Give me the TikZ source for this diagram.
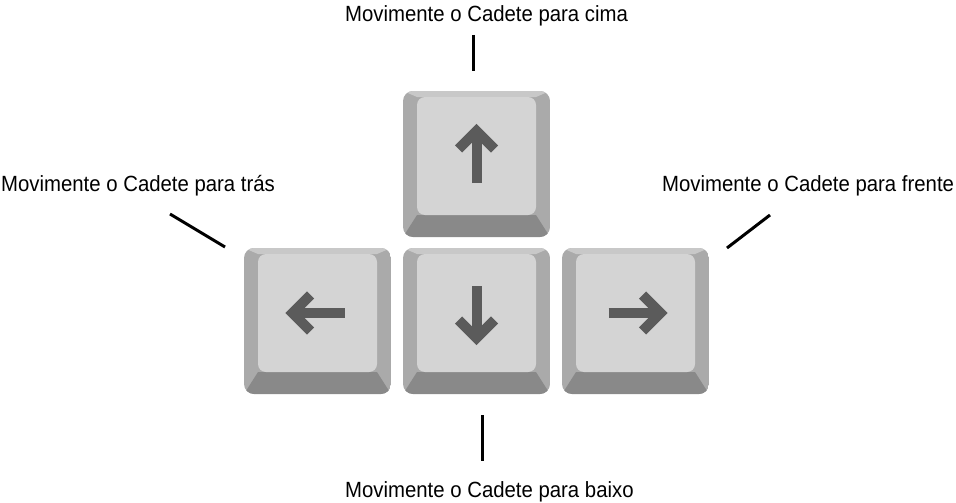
\documentclass[tikz,border=0pt]{standalone}
\usepackage{fontspec}
\setmainfont{Liberation Sans}
\newfontfamily\narrowfont[FakeStretch=0.925]{Liberation Sans}
\definecolor{keytop}{HTML}{C8C8C8}
\definecolor{keyside}{HTML}{AAAAAA}
\definecolor{keybottom}{HTML}{898989}
\definecolor{keyface}{HTML}{D4D4D4}
\definecolor{keyarrow}{HTML}{5B5B5B}
\tikzset{
  caption/.style={anchor=base west, inner sep=0pt, font=\narrowfont\fontsize{22}{26}\selectfont},
  pointer/.style={line width=3pt, black},
  arrowline/.style={line width=10pt, keyarrow}
}
\begin{document}
\begin{tikzpicture}[x=1pt, y=-1pt]
\useasboundingbox (0,0) rectangle (956,503);

% the four keys: x, y of top left corner, direction of the arrow
\foreach \x/\y/\r in {403/91/90, 244/248/180, 403/248/270, 562/248/0}
{
	\begin{scope}
		\clip[rounded corners=10pt] (\x,\y) rectangle ++(147,146);
		\fill[keyside] (\x,\y) rectangle ++(147,146);
		\fill[keytop] (\x,\y) -- ++(147,0) -- ++(-14,6) -- ++(-119,0) -- cycle;
		\fill[keybottom] (\x,{\y+146}) -- ++(147,0) -- ++(-14,-22) -- ++(-119,0) -- cycle;
	\end{scope}
	\fill[keyface, rounded corners=8pt] ({\x+14},{\y+6}) rectangle ++(119,118);
	\pgfmathsetmacro{\cx}{\x+73.5+2.5*cos(\r)}
	\pgfmathsetmacro{\cy}{\y+65-2.5*sin(\r)}
	\begin{scope}[shift={(\cx,\cy)}, rotate=\r]
		\draw[arrowline] (-29.5,0) -- (23,0);
		\draw[arrowline, line join=miter] (4.5,-18) -- (22.5,0) -- (4.5,18);
	\end{scope}
}

% labels
\node[caption] (cima) at (345,22) {Movimente o Cadete para cima};
\node[caption] (tras) at (1,191) {Movimente o Cadete para trás};
\node[caption] (frente) at (662,191) {Movimente o Cadete para frente};
\node[caption] (baixo) at (345,497) {Movimente o Cadete para baixo};

% pointers
\coordinate (cima-a) at (473,35);
\coordinate (cima-b) at (473,71);
\coordinate (tras-a) at (170,214);
\coordinate (tras-b) at (225,247);
\coordinate (frente-a) at (770,215);
\coordinate (frente-b) at (727,248);
\coordinate (baixo-a) at (482,415);
\coordinate (baixo-b) at (482,461);
\draw[pointer] (cima-a) -- (cima-b);
\draw[pointer] (tras-a) -- (tras-b);
\draw[pointer] (frente-a) -- (frente-b);
\draw[pointer] (baixo-a) -- (baixo-b);

\end{tikzpicture}
\end{document}
